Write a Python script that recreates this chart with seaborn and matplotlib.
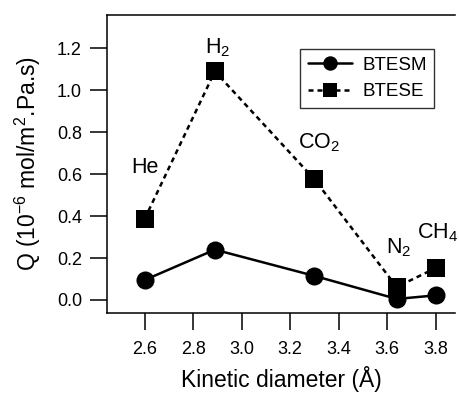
import seaborn as sns
import matplotlib.pyplot as plt
import pandas as pd

# kinetic diameters (Angstrom) of the gases
gases = ['He', 'H$_2$', 'CO$_2$', 'N$_2$', 'CH$_4$']
kin_diam = [2.6, 2.89, 3.3, 3.64, 3.8]
q_btesm = [0.095, 0.24, 0.115, 0.005, 0.022]
q_btese = [0.386, 1.09, 0.576, 0.062, 0.152]

df = pd.DataFrame({
	'd': kin_diam * 2,
	'Q': q_btesm + q_btese,
	'membrane': ['BTESM'] * 5 + ['BTESE'] * 5,
})

sns.set_style('ticks')
plt.rcParams['font.family'] = ['Liberation Sans', 'DejaVu Sans']
plt.rcParams['mathtext.default'] = 'regular'
plt.rcParams['text.color'] = 'black'
plt.rcParams['axes.labelcolor'] = 'black'

fig = plt.figure(figsize=(4.6, 3.94), dpi=100)
ax = fig.add_axes([0.2326, 0.2056, 0.989 - 0.2326, 0.962 - 0.2056])

sns.lineplot(data=df, x='d', y='Q', style='membrane', color='black',
			 markers={'BTESM': 'o', 'BTESE': 's'},
			 dashes={'BTESM': '', 'BTESE': (2.0, 1.6)},
			 markersize=13, linewidth=1.8, markeredgewidth=0,
			 sort=False, ax=ax)

# gas labels (baseline positions)
lab_x = [2.6, 2.9, 3.318, 3.649, 3.81]
lab_y = [0.605, 1.176, 0.724, 0.224, 0.295]
for g, lx, ly in zip(gases, lab_x, lab_y):
	ax.text(lx, ly, g, ha='center', va='baseline', fontsize=15.5, color='black')

ax.set_xlim(2.445, 3.88)
ax.set_ylim(-0.062, 1.359)
ax.set_xticks([2.6, 2.8, 3.0, 3.2, 3.4, 3.6, 3.8])
ax.set_yticks([0.0, 0.2, 0.4, 0.6, 0.8, 1.0, 1.2])
ax.xaxis.set_major_formatter(plt.FormatStrFormatter('%.1f'))
ax.yaxis.set_major_formatter(plt.FormatStrFormatter('%.1f'))
ax.tick_params(axis='both', direction='out', length=12, width=1.1,
			   labelsize=13, color='black', labelcolor='black')
ax.tick_params(axis='y', pad=6)
ax.tick_params(axis='x', pad=8)

for s in ['top', 'bottom', 'left']:
	ax.spines[s].set_color('black')
	ax.spines[s].set_linewidth(1.1)
ax.spines['right'].set_visible(False)

ax.set_xlabel('Kinetic diameter (Å)', fontsize=16.5, labelpad=6, color='black')
ax.set_ylabel('Q (10$^{-6}$ mol/m$^2$.Pa.s)', fontsize=16.5, labelpad=10, color='black')

leg = ax.legend(loc='upper left', bbox_to_anchor=(0.556, 0.886), borderaxespad=0,
				fontsize=13.5, frameon=True, fancybox=False, edgecolor='black',
				handlelength=2.35, borderpad=0.4, labelspacing=0.5,
				handletextpad=0.55, markerscale=0.8)
leg.get_frame().set_linewidth(1.0)
for t in leg.get_texts():
	t.set_color('black')

plt.savefig('out.png', dpi=100)
